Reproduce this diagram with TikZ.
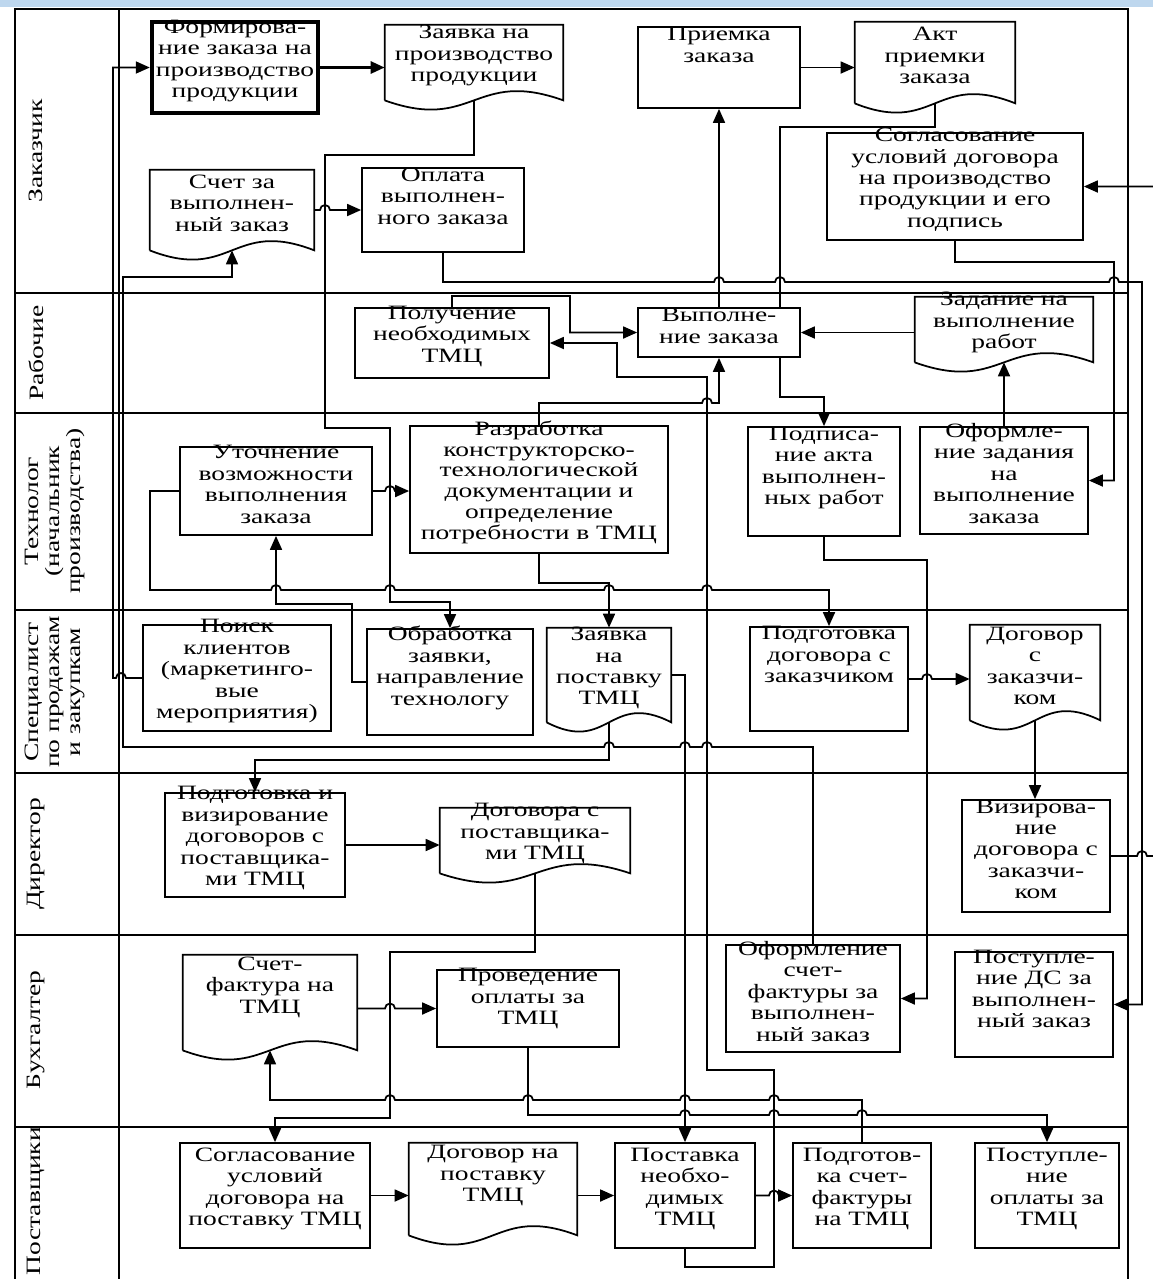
\documentclass[tikz,border=0pt]{standalone}
\usepackage{fontspec}
\setmainfont{Liberation Serif}[FakeStretch=1.35]
\usepackage{tikz}
\usetikzlibrary{arrows.meta}
\usetikzlibrary{fit}
\usetikzlibrary{calc}

\definecolor{topband}{RGB}{190,215,238}
\newcommand{\boxfont}{\fontsize{11.6}{12.2}\selectfont}
\newcommand{\hopR}[2]{-- (#1-5,#2) arc[start angle=180,end angle=360,radius=5]}
\newcommand{\hopL}[2]{-- (#1+5,#2) arc[start angle=0,end angle=-180,radius=5]}

\tikzset{
  box/.style={draw, line width=1pt, inner sep=0pt, align=center, font=\boxfont},
  doc/.style={inner sep=0pt, align=center, font=\boxfont,
    append after command={\pgfextra{\draw[line width=1pt]
      (\tikzlastnode.south west) -- (\tikzlastnode.north west)
      -- (\tikzlastnode.north east) -- (\tikzlastnode.south east)
      .. controls ($(\tikzlastnode.south)+(0,-32)$) and ($(\tikzlastnode.south)+(0,32)$)
      .. (\tikzlastnode.south west);}}},
  arr/.style={line width=1pt, -{Triangle[length=2.8mm,width=2.4mm]}},
  lane/.style={font=\boxfont, align=center, rotate=90},
}

\begin{document}
\begin{tikzpicture}[x=0.02cm, y=-0.02cm]
    \useasboundingbox (0,0) rectangle (1153,1279);
    \fill[topband] (0,0) rectangle (1153,6.5);
    \draw[line width=1.5pt] (15,1279) -- (15,9) -- (1128,9) -- (1128,1279);
    \draw[line width=1.2pt] (119,9) -- (119,1279);
    \foreach \y in {293,413,610,773,935,1127}
      \draw[line width=1.4pt] (15,\y) -- (1128,\y);

    \node[lane] (lZak) at (36,151) {Заказчик};
    \node[lane] (lRab) at (36,353) {Рабочие};
    \node[lane] (lTeh) at (55,511) {Технолог\\(начальник\\производства)};
    \node[lane] (lSpec) at (55,692) {Специалист\\по продажам\\и закупкам};
    \node[lane] (lDir) at (36,854) {Директор};
    \node[lane] (lBuh) at (36,1030) {Бухгалтер};
    \node[lane] (lPost) at (36,1201) {Поставщики};

    \node[box, line width=2.5pt, fit={(152,22) (318,113)}] (form) {Формирова-\\ние заказа на\\производство\\продукции};
    \node[doc, fit={(385,25) (563,100)}] (zayavka) {Заявка на\\производство\\продукции};
    \node[box, fit={(638,27) (800,108)}] (priemka) {Приемка\\заказа\\[6pt]\mbox{}};
    \node[doc, fit={(855,22) (1015,103)}] (akt) {Акт\\приемки\\заказа};
    \node[box, fit={(827,133) (1083,240)}] (soglas) {Согласование\\условий договора\\на производство\\продукции и его\\подпись};
    \node[doc, fit={(150,170) (314,250)}] (schet) {Счет за\\выполнен-\\ный заказ};
    \node[box, fit={(362,168) (524,252)}] (oplata) {Оплата\\выполнен-\\ного заказа\\[-4pt]\mbox{}};

    \node[box, fit={(355,308) (549,378)}] (poluch) {Получение\\необходимых\\ТМЦ};
    \node[box, fit={(638,308) (800,357)}] (vypoln) {Выполне-\\ние заказа};
    \node[doc, fit={(915,297) (1093,362)}] (zadanie) {Задание на\\выполнение\\работ};

    \node[box, fit={(180,447) (372,535)}] (utoch) {Уточнение\\возможности\\выполнения\\заказа};
    \node[box, fit={(410,426) (668,553)}, font=\fontsize{11.6}{11.8}\selectfont] (razrab) {Разработка\\конструкторско-\\технологической\\документации и\\определение\\потребности в ТМЦ};
    \node[box, fit={(748,427) (900,536)}] (podpis) {Подписа-\\ние акта\\выполнен-\\ных работ\\[-2pt]\mbox{}};
    \node[box, fit={(920,427) (1088,534)}] (oform) {Оформле-\\ние задания\\на\\выполнение\\заказа};

    \node[box, fit={(143,625) (331,731)}] (poisk) {Поиск\\клиентов\\(маркетинго-\\вые\\мероприятия)};
    \node[box, fit={(367,629) (533,735)}] (obrab) {Обработка\\заявки,\\направление\\технологу\\[-2pt]\mbox{}};
    \node[doc, fit={(547,628) (671,722)}] (zayavkaT) {Заявка\\на\\поставку\\ТМЦ};
    \node[box, fit={(750,627) (908,731)}] (podgDog) {Подготовка\\договора с\\заказчиком\\[8pt]\mbox{}};
    \node[doc, fit={(970,625) (1100,720)}] (dogovor) {Договор\\с\\заказчи-\\ком};

    \node[box, fit={(165,793) (345,897)}] (podgViz) {Подготовка и\\визирование\\договоров с\\поставщика-\\ми ТМЦ};
    \node[doc, fit={(440,808) (630,873)}] (dogovorPost) {Договора с\\поставщика-\\ми ТМЦ};
    \node[box, fit={(962,800) (1110,912)}] (viz) {Визирова-\\ние\\договора с\\заказчи-\\ком};

    \node[doc, fit={(183,955) (357,1050)}] (schetF) {Счет-\\фактура на\\ТМЦ\\[0pt]\mbox{}};
    \node[box, fit={(437,970) (619,1047)}] (proved) {Проведение\\оплаты за\\ТМЦ\\[-6pt]\mbox{}};
    \node[box, fit={(726,945) (900,1052)}] (oformSF) {Оформление\\счет-\\фактуры за\\выполнен-\\ный заказ};
    \node[box, fit={(955,952) (1113,1057)}] (postDS) {Поступле-\\ние ДС за\\выполнен-\\ный заказ\\[-2pt]\mbox{}};

    \node[box, fit={(180,1143) (370,1248)}] (soglP) {Согласование\\условий\\договора на\\поставку ТМЦ};
    \node[doc, fit={(409,1143) (577,1235)}] (dogP) {Договор на\\поставку\\ТМЦ\\[-2pt]\mbox{}};
    \node[box, fit={(615,1143) (755,1248)}] (postavka) {Поставка\\необхо-\\димых\\ТМЦ};
    \node[box, fit={(793,1143) (931,1248)}] (podgSF) {Подготов-\\ка счет-\\фактуры\\на ТМЦ};
    \node[box, fit={(975,1143) (1119,1248)}] (postOpl) {Поступле-\\ние\\оплаты за\\ТМЦ};

    \coordinate (k780) at (780,0);

    \draw[arr, line width=1.6pt] (form.east) -- (form.east -| zayavka.west);
    \draw[arr] (priemka.east) -- (priemka.east -| akt.west);
    \draw[arr] (schet.east) \hopR{325}{210} -- (oplata.west);
    \draw[arr] (poisk.west) \hopL{121}{678} -- (113,678) -- (113,67.5) -- (form.west);
    \draw[arr] (oformSF.north) -- (813,747) \hopL{707}{747} \hopL{685}{747} \hopL{609}{747}
      -- (123,747) -- (123,277) -- (232,277) -- (schet.south);
    \draw[arr] (zayavka.south) -- (474,155) -- (325,155) -- (325,428) -- (390,428)
      -- (390,602) -- (450,602) -- (obrab.north);
    \draw[arr] (obrab.west) -- (352,682) -- (352,604) -- (276,604) -- (utoch.south);
    \draw[arr] (utoch.east) \hopR{390}{491} -- (utoch.east -| razrab.west);
    \draw[arr] (utoch.west) -- (150,491) -- (150,590) \hopR{276}{590} \hopR{390}{590}
      \hopR{609}{590} \hopR{707}{590} -- (829,590) -- (podgDog.north);
    \draw[arr] (razrab.south) -- (539,583) -- (609,583) -- (zayavkaT.north);
    \draw[arr] (razrab.north) -- (539,403) \hopR{707}{403} -- (719,403) -- (vypoln.south);
    \draw[arr] (vypoln.north) -- (priemka.south);
    \draw[line width=1pt] (akt.south) -- (935,127) -- (780,127) -- (k780 |- vypoln.north);
    \draw[arr] (k780 |- vypoln.south) -- (780,397) -- (824,397) -- (podpis.north);
    \draw[arr] (poluch.north) -- (452,296) -- (570,296) -- (570,332.5) -- (vypoln.west);
    \draw[arr] (postavka.south) -- (685,1267) -- (774,1267) -- (774,1070) -- (707,1070)
      -- (707,377) -- (617,377) -- (617,343) -- (poluch.east);
    \draw[arr] (zayavkaT.east) -- (685,675) -- (postavka.north);
    \draw[arr] (zayavkaT.south) -- (609,760) -- (255,760) -- (podgViz.north);
    \draw[arr] (podgDog.east) \hopR{927}{679} -- (podgDog.east -| dogovor.west);
    \draw[arr] (dogovor.south) -- (dogovor.south |- viz.north);
    \draw[arr] (viz.east) \hopR{1142}{856} -- (1168,856) -- (1168,186.5) -- (soglas.east);
    \draw[arr] (soglas.south) -- (955,262) -- (1114,262) -- (1114,480.5) -- (oform.east);
    \draw[arr] (oplata.south) -- (443,282) \hopR{719}{282} \hopR{780}{282} \hopR{1114}{282}
      -- (1142,282) -- (1142,1004.5) -- (postDS.east);
    \draw[arr] (zadanie.west |- vypoln.east) -- (vypoln.east);
    \draw[arr] (oform.north) -- (oform.north |- zadanie.south);
    \draw[arr] (podpis.south) -- (824,560) -- (927,560) -- (927,998.5) -- (oformSF.east);
    \draw[arr] (podgViz.east) -- (podgViz.east -| dogovorPost.west);
    \draw[arr] (dogovorPost.south) -- (535,952) -- (390,952) -- (390,1118) -- (275,1118) -- (soglP.north);
    \draw[arr] (schetF.east |- proved.west) \hopR{390}{1008.5} -- (proved.west);
    \draw[arr] (podgSF.north) -- (862,1100) \hopL{774}{1100} \hopL{685}{1100} \hopL{528}{1100}
      \hopL{390}{1100} -- (270,1100) -- (schetF.south);
    \draw[arr] (proved.south) -- (528,1115) \hopR{685}{1115} \hopR{774}{1115} \hopR{862}{1115}
      -- (1047,1115) -- (postOpl.north);
    \draw[arr] (soglP.east) -- (soglP.east -| dogP.west);
    \draw[arr] (dogP.east |- postavka.west) -- (postavka.west);
    \draw[arr] (postavka.east) \hopR{774}{1195.5} -- (podgSF.west);
\end{tikzpicture}
\end{document}
